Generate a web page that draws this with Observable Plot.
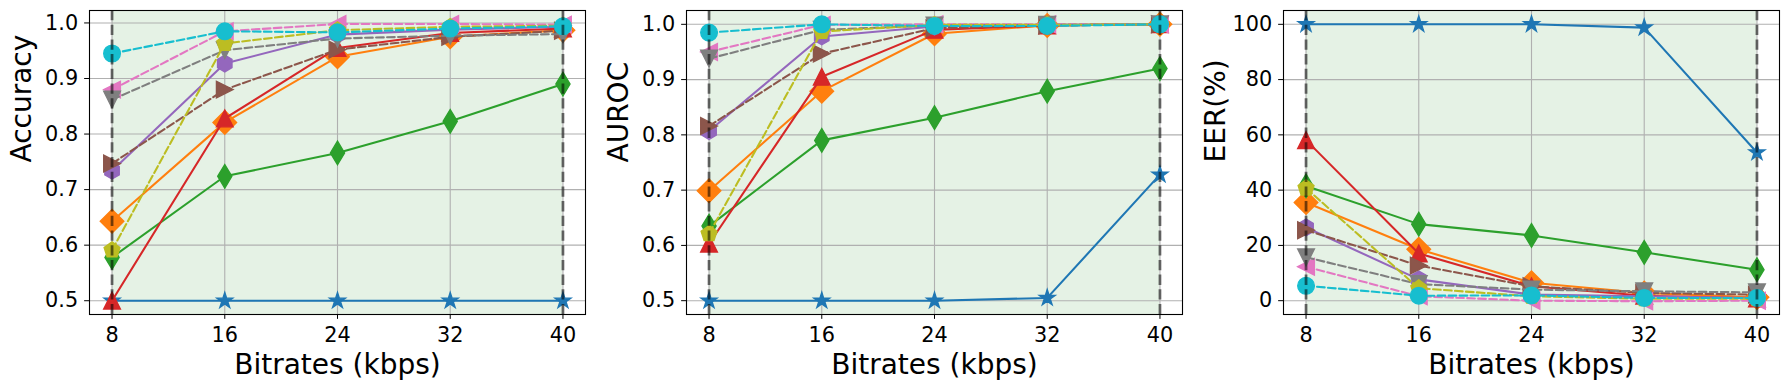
<!DOCTYPE html>
<html>
<head>
<meta charset="utf-8">
<script src="https://cdn.jsdelivr.net/npm/d3@7"></script>
<script src="https://cdn.jsdelivr.net/npm/@observablehq/plot@0.6"></script>
<style>
  html, body { margin: 0; padding: 0; background: #ffffff; }
  #chart { display: flex; width: 1789px; height: 390px; overflow: hidden; }
  #chart svg { display: block; flex: none; }
</style>
</head>
<body>
<div id="chart"></div>
<script>
// ---------------- data ----------------
const bitrates = [8, 16, 24, 32, 40];
const seriesNames = ["Series 1", "Series 2", "Series 3", "Series 4", "Series 5",
                     "Series 6", "Series 7", "Series 8", "Series 9", "Series 10"];

const accuracyValues = [
  [0.500, 0.500, 0.500, 0.500, 0.500],
  [0.643, 0.821, 0.939, 0.975, 0.987],
  [0.578, 0.724, 0.766, 0.823, 0.890],
  [0.500, 0.828, 0.955, 0.982, 0.990],
  [0.734, 0.927, 0.979, 0.988, 0.993],
  [0.747, 0.880, 0.952, 0.975, 0.986],
  [0.880, 0.985, 0.998, 0.998, 0.997],
  [0.862, 0.951, 0.972, 0.977, 0.980],
  [0.591, 0.963, 0.987, 0.993, 0.995],
  [0.945, 0.985, 0.983, 0.990, 0.994]
];

const aurocValues = [
  [0.500, 0.500, 0.500, 0.505, 0.728],
  [0.699, 0.879, 0.983, 0.998, 1.000],
  [0.635, 0.790, 0.831, 0.879, 0.920],
  [0.603, 0.905, 0.990, 0.998, 1.000],
  [0.807, 0.978, 0.996, 0.999, 1.000],
  [0.816, 0.947, 0.993, 0.998, 1.000],
  [0.950, 0.999, 1.000, 1.000, 1.000],
  [0.938, 0.990, 0.998, 0.999, 1.000],
  [0.621, 0.987, 0.999, 0.999, 1.000],
  [0.985, 1.000, 0.997, 0.997, 1.000]
];

const eerValues = [
  [100.0, 100.0, 100.0, 98.8, 53.6],
  [35.5, 18.6, 6.5, 2.8, 1.2],
  [41.5, 27.7, 23.6, 17.5, 11.2],
  [58.1, 17.1, 5.2, 1.8, 0.8],
  [26.5, 7.7, 2.2, 1.6, 1.0],
  [25.5, 12.7, 5.2, 2.8, 2.2],
  [12.3, 1.6, 0.0, -0.2, 0.0],
  [15.7, 6.0, 4.0, 3.4, 3.0],
  [40.7, 4.5, 1.6, 0.7, 0.7],
  [5.4, 1.8, 1.9, 1.0, 1.0]
];

const accuracyTicks = [0.5, 0.6, 0.7, 0.8, 0.9, 1.0];
const aurocTicks = [0.5, 0.6, 0.7, 0.8, 0.9, 1.0];
const eerTicks = [0, 20, 40, 60, 80, 100];
const xLabel = "Bitrates (kbps)";
const yLabels = ["Accuracy", "AUROC", "EER(%)"];

// ---------------- styles ----------------
const colors = ["#1f77b4", "#ff7f0e", "#2ca02c", "#d62728", "#9467bd",
                "#8c564b", "#e377c2", "#7f7f7f", "#bcbd22", "#17becf"];
const markers = ["star", "D", "d", "^", "h", ">", "<", "v", "p", "o"];
const dashed = [false, false, false, false, false, true, true, true, true, true];

// matplotlib-like marker shapes (unit coords, y up; scaled by r = sqrt(size/pi))
function polySymbol(pts) {
  return {
    draw(ctx, size) {
      const r = Math.sqrt(size / Math.PI);
      ctx.moveTo(pts[0][0] * r, -pts[0][1] * r);
      for (let k = 1; k < pts.length; k++) ctx.lineTo(pts[k][0] * r, -pts[k][1] * r);
      ctx.closePath();
    }
  };
}
function regular(n, start = 90) {
  const out = [];
  for (let k = 0; k < n; k++) {
    const a = (start + k * 360 / n) * Math.PI / 180;
    out.push([Math.cos(a), Math.sin(a)]);
  }
  return out;
}
function starPts() {
  const out = [];
  for (let k = 0; k < 10; k++) {
    const a = (90 + k * 36) * Math.PI / 180;
    const rr = k % 2 === 0 ? 1 : 0.381966;
    out.push([rr * Math.cos(a), rr * Math.sin(a)]);
  }
  return out;
}
const h2 = Math.SQRT2;
const symbols = {
  "star": polySymbol(starPts()),
  "D": polySymbol([[0, h2], [h2, 0], [0, -h2], [-h2, 0]]),
  "d": polySymbol([[0, h2], [0.6 * h2, 0], [0, -h2], [-0.6 * h2, 0]]),
  "^": polySymbol([[0, 1], [-1, -1], [1, -1]]),
  "v": polySymbol([[0, -1], [-1, 1], [1, 1]]),
  ">": polySymbol([[1, 0], [-1, 1], [-1, -1]]),
  "<": polySymbol([[-1, 0], [1, 1], [1, -1]]),
  "h": polySymbol(regular(6)),
  "p": polySymbol(regular(5)),
  "o": "circle"
};

const FONT = "DejaVu Sans";
const TICK_FS = 20.8;
const LABEL_FS = 28;
const MS_R = 8.33;

function panel(values, yDomain, yTicks, yFormat, yLabel, width, marginRight) {
  const marks = [
    Plot.rect([bitrates], {
      x1: d => d[0], x2: d => d[d.length - 1],
      fill: "#008000", fillOpacity: 0.1
    }),
    Plot.gridX({ticks: bitrates, stroke: "#b0b0b0", strokeOpacity: 1, strokeWidth: 1.1}),
    Plot.gridY({ticks: yTicks, stroke: "#b0b0b0", strokeOpacity: 1, strokeWidth: 1.1})
  ];
  seriesNames.forEach((name, i) => {
    const data = bitrates.map((b, j) => ({series: name, bitrate: b, value: values[i][j]}));
    marks.push(Plot.line(data, {
      x: "bitrate", y: "value", stroke: colors[i], strokeWidth: 2.08,
      strokeDasharray: dashed[i] ? "7.7,3.3" : null
    }));
    marks.push(Plot.dot(data, {
      x: "bitrate", y: "value", symbol: symbols[markers[i]], r: MS_R,
      fill: colors[i], stroke: colors[i], strokeWidth: 1.39
    }));
  });
  marks.push(Plot.ruleX([bitrates[0], bitrates[bitrates.length - 1]], {
    stroke: "black", strokeOpacity: 0.55, strokeWidth: 2.78, strokeDasharray: "10.3,4.4"
  }));
  marks.push(Plot.frame({stroke: "black", strokeWidth: 1.1}));
  marks.push(Plot.axisX({
    ticks: bitrates, tickSize: 4.86, tickPadding: 7.5, fontSize: TICK_FS,
    label: null, tickFormat: d => String(d)
  }));
  marks.push(Plot.axisY({
    ticks: yTicks, tickSize: 4.86, tickPadding: 6.5, fontSize: TICK_FS,
    label: null, tickFormat: yFormat
  }));
  marks.push(Plot.text([xLabel], {
    text: d => d, frameAnchor: "bottom", lineAnchor: "bottom", dy: 59,
    fontSize: LABEL_FS, fill: "black"
  }));
  marks.push(Plot.text([yLabel], {
    text: d => d, frameAnchor: "left", lineAnchor: "bottom", rotate: -90, dx: -59,
    fontSize: LABEL_FS, fill: "black"
  }));
  return Plot.plot({
    width, height: 390,
    marginLeft: 89, marginRight, marginTop: 10, marginBottom: 76,
    x: {type: "linear", domain: [6.4, 41.6]},
    y: {type: "linear", domain: yDomain},
    style: {fontFamily: FONT, fontSize: TICK_FS + "px", background: "white", color: "black", overflow: "visible"},
    marks
  });
}

const chart = document.getElementById("chart");
chart.appendChild(panel(accuracyValues, [0.4752, 1.0224], accuracyTicks, d3.format(".1f"), yLabels[0], 597, 12));
chart.appendChild(panel(aurocValues, [0.475, 1.025], aurocTicks, d3.format(".1f"), yLabels[1], 597, 12));
chart.appendChild(panel(eerValues, [-5.0, 105.0], eerTicks, d => String(d), yLabels[2], 595, 10));
</script>
</body>
</html>
